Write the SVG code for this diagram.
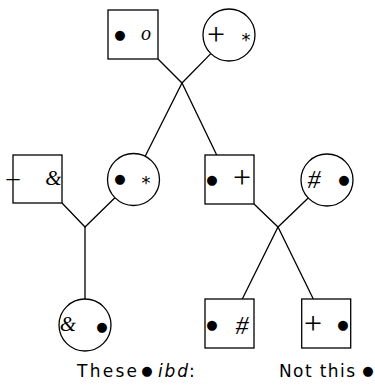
<svg xmlns="http://www.w3.org/2000/svg" width="375" height="385" viewBox="0 0 375 385">
  <style>
    .box { fill: #fff; stroke: #000; stroke-width: 1.3; }
    .edge { fill: none; stroke: #000; stroke-width: 1.3; }
    text { fill: #000; }
    .dot { font-family: "DejaVu Sans", sans-serif; font-size: 13px; text-anchor: middle; }
    .sym { font-family: "Liberation Serif", serif; text-anchor: middle; }
    .ital { font-family: "Liberation Serif", serif; font-style: italic; text-anchor: middle; }
    .ast { font-family: "DejaVu Sans", sans-serif; font-size: 18px; text-anchor: middle; }
    .caption { font-family: "DejaVu Sans", sans-serif; font-size: 17px; }
  </style>

  <!-- connectors -->
  <g id="connectors" class="edge">
    <polyline points="158,59 182,83 210.8,53.6"/>
    <polyline points="145.2,156.3 182,83 216.7,155"/>
    <polyline points="62,203 85,227 114.9,197.7"/>
    <line x1="85" y1="227" x2="85" y2="299"/>
    <polyline points="254,204 278,227 308.2,198"/>
    <polyline points="242.3,299 278,227 313.3,299"/>
  </g>

  <g id="top-square">
    <rect class="box" x="108" y="10" width="50" height="49"/>
    <text class="dot" x="120" y="38.5">●</text>
    <text class="ital" x="146" y="40" font-size="20">o</text>
  </g>

  <g id="top-circle">
    <circle class="box" cx="229" cy="35" r="26"/>
    <text class="sym" x="216" y="44.5" font-size="32">+</text>
    <text class="ast" x="246" y="46">*</text>
  </g>

  <g id="mid-left-square">
    <rect class="box" x="13" y="155" width="49" height="48"/>
    <text class="sym" x="13" y="186" font-size="26" text-anchor="start">–</text>
    <text class="ital" x="53.5" y="185" font-size="21">&amp;</text>
  </g>

  <g id="mid-left-circle">
    <circle class="box" cx="133.5" cy="179.5" r="26"/>
    <text class="dot" x="120" y="182.5">●</text>
    <text class="ast" x="146" y="189">*</text>
  </g>

  <g id="mid-right-square">
    <rect class="box" x="205" y="155" width="49" height="49"/>
    <text class="dot" x="212" y="183.5">●</text>
    <text class="sym" x="242" y="188" font-size="32">+</text>
  </g>

  <g id="mid-right-circle">
    <circle class="box" cx="327" cy="180" r="26"/>
    <text class="ital" x="314" y="188" font-size="26">#</text>
    <text class="dot" x="344" y="183.5">●</text>
  </g>

  <g id="bottom-circle">
    <circle class="box" cx="85" cy="325" r="26"/>
    <text class="ital" x="68" y="331" font-size="21">&amp;</text>
    <text class="dot" x="102" y="330.5">●</text>
  </g>

  <g id="bottom-left-square">
    <rect class="box" x="205" y="299" width="49" height="49"/>
    <text class="dot" x="212" y="328.5">●</text>
    <text class="ital" x="242" y="333.5" font-size="26">#</text>
  </g>

  <g id="bottom-right-square">
    <rect class="box" x="301.7" y="299" width="49" height="49"/>
    <text class="sym" x="313" y="334" font-size="32">+</text>
    <text class="dot" x="343" y="328.5">●</text>
  </g>

  <g id="captions">
    <text class="caption" x="77" y="377" textLength="60" lengthAdjust="spacing">These</text>
    <text class="dot" x="147" y="375" font-size="10">●</text>
    <text class="caption" x="158" y="377" font-style="italic" textLength="30" lengthAdjust="spacing">ibd</text>
    <text class="caption" x="189" y="377">:</text>
    <text class="caption" x="279" y="377" textLength="76" lengthAdjust="spacing">Not this</text>
    <text class="dot" x="368" y="375" font-size="10">●</text>
  </g>
</svg>
